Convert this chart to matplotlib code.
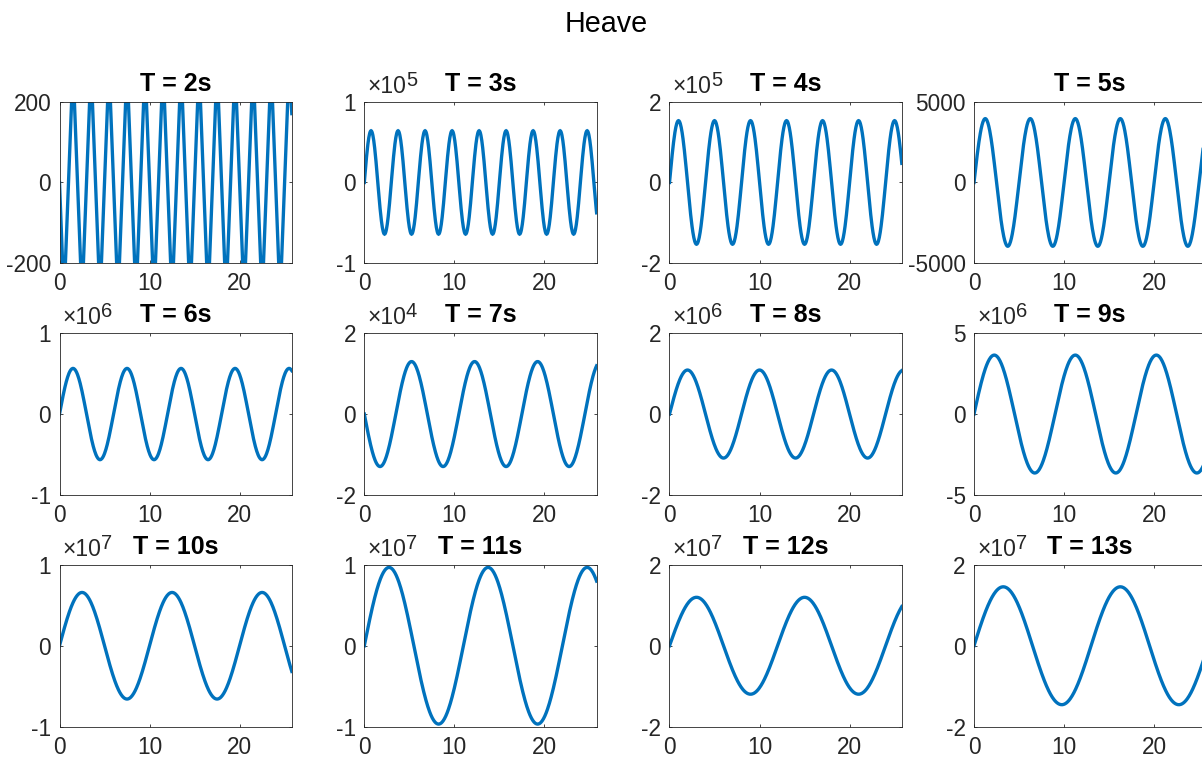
import numpy as np
import matplotlib
matplotlib.use('Agg')
import matplotlib.pyplot as plt

# ---- data ----
periods = [2, 3, 4, 5, 6, 7, 8, 9, 10, 11, 12, 13]
amplitudes = [-290, 0.64e5, 1.53e5, 3950, 0.565e6, -1.30e4, 1.09e6, 3.65e6,
              0.66e7, 0.97e7, 1.20e7, 1.46e7]
y_limits = [200, 1e5, 2e5, 5000, 1e6, 2e4, 2e6, 5e6, 1e7, 1e7, 2e7, 2e7]
exponents = [0, 5, 5, 0, 6, 4, 6, 6, 7, 7, 7, 7]
sample_steps = [0.5, 0.05, 0.05, 0.05, 0.05, 0.05, 0.05, 0.05, 0.05, 0.05, 0.05, 0.05]
t_end = 25.8
x_ticks = [0, 10, 20]
titles = ["T = %ds" % p for p in periods]
suptitle = "Heave"

plt.rcParams['font.family'] = ['Liberation Sans', 'DejaVu Sans']

W, H = 1202, 759
fig = plt.figure(figsize=(W / 100, H / 100), dpi=100)
fig.patch.set_facecolor('white')

line_color = '#0072BD'
axis_color = '#262626'

col_left = [59.5, 364.3, 669.5, 974.0]
row_top = [101.7, 333.3, 565.0]
ax_w, ax_h = 232.3, 161.5

for i, p in enumerate(periods):
    r, c = divmod(i, 4)
    left = col_left[c] / W
    bottom = 1 - (row_top[r] + ax_h) / H
    ax = fig.add_axes([left, bottom, ax_w / W, ax_h / H])

    dt = sample_steps[i]
    t = np.arange(0, t_end + 1e-9, dt)
    if t[-1] < t_end - 1e-9:
        t = np.append(t, t_end)
    y = amplitudes[i] * np.sin(2 * np.pi * t / p)
    ax.plot(t, y, color=line_color, lw=2.4, solid_joinstyle='miter')

    lim = y_limits[i]
    ax.set_xlim(0, t_end)
    ax.set_ylim(-lim, lim)
    ax.set_xticks(x_ticks)
    ax.set_xticklabels([str(v) for v in x_ticks])
    e = exponents[i]
    scale = 10 ** e
    yt = [-lim, 0, lim]
    ax.set_yticks(yt)
    ax.set_yticklabels(["%d" % round(v / scale) if v != 0 else "0" for v in yt])

    ax.tick_params(direction='in', length=2.5, width=0.6, colors=axis_color,
                   labelsize=16.3, top=True, right=True, labelcolor=axis_color)
    ax.tick_params(axis='y', pad=6)
    ax.tick_params(axis='x', pad=6.5)
    for s in ax.spines.values():
        s.set_color(axis_color)
        s.set_linewidth(0.6)

    ax.set_title(titles[i], fontsize=18, fontweight='bold', pad=8, color='black')

    if e != 0:
        base_y = 1.0 + 9 / ax_h
        tx = ax.text(0.013, base_y, "×10", transform=ax.transAxes,
                     ha='left', va='baseline', fontsize=16.5, color=axis_color)
        ax.text(0.013 + 38.5 / ax_w, base_y + 7 / ax_h, "%d" % e,
                transform=ax.transAxes, ha='left', va='baseline',
                fontsize=14.5, color=axis_color)

fig.text(606.5 / W, 1 - 31.7 / H, suptitle, ha='center', va='baseline',
         fontsize=20.7, color='black')

fig.savefig('out.png', dpi=100, facecolor='white')
